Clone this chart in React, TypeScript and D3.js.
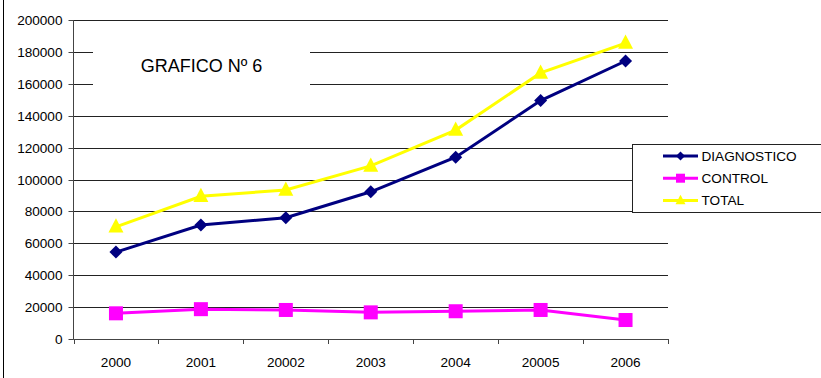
import React from "react";
import * as d3 from "d3";

const categories = ["2000", "2001", "20002", "2003", "2004", "20005", "2006"];
const diagnostico = [54500, 71500, 76000, 92300, 114000, 149500, 174300];
const control = [16100, 18700, 18200, 16700, 17400, 18200, 11900];
const total = [70300, 89500, 93400, 108500, 131000, 166800, 185500];
const yTicks = [0, 20000, 40000, 60000, 80000, 100000, 120000, 140000, 160000, 180000, 200000];
const seriesNames = ["DIAGNOSTICO", "CONTROL", "TOTAL"];

const W = 821;
const H = 378;
const plot = { left: 73.5, right: 668, top: 20, bottom: 339 };
const font = "'Liberation Sans', Arial, sans-serif";
const colors = ["#000080", "#FF00FF", "#FFFF00"];

function Marker({ kind, x, y, color, s }: { kind: number; x: number; y: number; color: string; s: number }) {
  if (kind === 0) {
    const r = s / 2;
    return <path d={`M${x},${y - r}L${x + r},${y}L${x},${y + r}L${x - r},${y}Z`} fill={color} />;
  }
  if (kind === 1) {
    return <rect x={x - s / 2} y={y - s / 2} width={s} height={s} fill={color} />;
  }
  const h = s * 0.95;
  return (
    <path
      d={`M${x},${y - h * 0.6}L${x + s / 2},${y + h * 0.4}L${x - s / 2},${y + h * 0.4}Z`}
      fill={color}
    />
  );
}

export default function App() {
  const x = d3.scaleBand<string>().domain(categories).range([plot.left, plot.right]);
  const y = d3.scaleLinear().domain([0, 200000]).range([plot.bottom, plot.top]);
  const cx = (c: string) => (x(c) as number) + x.bandwidth() / 2;
  const line = d3
    .line<number>()
    .x((_, i) => cx(categories[i]))
    .y((v) => y(v));
  const data = [diagnostico, control, total];
  const markerSize = [13, 14, 15];
  const bounds = [...categories.map((c) => x(c) as number), plot.right];

  return (
    <svg
      width={W}
      height={H}
      style={{ position: "absolute", left: 0, top: 0, background: "#fff" }}
      fontFamily={font}
    >
      <rect x={0} y={0} width={W} height={H} fill="#fff" />
      {/* outer chart frame edge */}
      <line x1={3.5} x2={3.5} y1={0} y2={H} stroke="#000" strokeWidth={1} />

      {/* gridlines */}
      {yTicks.map((t) => (
        <line
          key={t}
          x1={plot.left}
          x2={plot.right}
          y1={Math.round(y(t)) + 0.5}
          y2={Math.round(y(t)) + 0.5}
          stroke="#222"
          strokeWidth={1}
        />
      ))}

      {/* title block */}
      <rect x={93} y={30} width={217} height={70} fill="#fff" />
      <text x={201.5} y={72} fontSize={18} textAnchor="middle" fill="#000">
        GRAFICO Nº 6
      </text>

      {/* y axis */}
      <line x1={plot.left} x2={plot.left} y1={plot.top} y2={plot.bottom} stroke="#444" />
      {yTicks.map((t) => (
        <g key={t}>
          <line
            x1={plot.left - 5}
            x2={plot.left}
            y1={Math.round(y(t)) + 0.5}
            y2={Math.round(y(t)) + 0.5}
            stroke="#444"
          />
          <text x={62.5} y={y(t) + 5} fontSize={13.6} textAnchor="end" fill="#000">
            {t}
          </text>
        </g>
      ))}

      {/* x axis */}
      <line
        x1={plot.left}
        x2={plot.right}
        y1={Math.round(plot.bottom) + 0.5}
        y2={Math.round(plot.bottom) + 0.5}
        stroke="#444"
      />
      {bounds.map((b, i) => (
        <line key={i} x1={Math.round(b) + 0.5} x2={Math.round(b) + 0.5} y1={plot.bottom} y2={plot.bottom + 5} stroke="#444" />
      ))}
      {categories.map((c) => (
        <text key={c} x={cx(c)} y={366.5} fontSize={13.6} textAnchor="middle" fill="#000">
          {c}
        </text>
      ))}

      {/* series */}
      {[2, 0, 1].map((k) => (
        <g key={k}>
          <path d={line(data[k]) || ""} fill="none" stroke={colors[k]} strokeWidth={3} />
          {data[k].map((v, i) => (
            <Marker key={i} kind={k} x={cx(categories[i])} y={y(v)} color={colors[k]} s={markerSize[k]} />
          ))}
        </g>
      ))}

      {/* legend */}
      <rect x={632.5} y={144.5} width={200} height={68} fill="#fff" stroke="#222" strokeWidth={1} />
      {seriesNames.map((n, k) => {
        const ly = 156 + k * 22.2;
        return (
          <g key={n}>
            <line x1={663} x2={698} y1={ly} y2={ly} stroke={colors[k]} strokeWidth={3} />
            <Marker kind={k} x={680.5} y={ly} color={colors[k]} s={[9, 9, 10][k]} />
            <text x={701.5} y={ly + 5} fontSize={13.6} fill="#000">
              {n}
            </text>
          </g>
        );
      })}
    </svg>
  );
}
